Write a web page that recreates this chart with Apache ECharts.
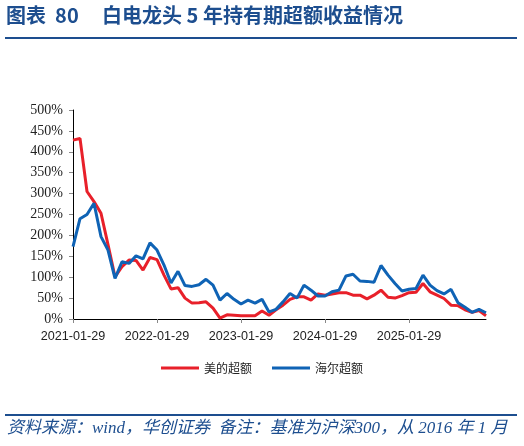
<!DOCTYPE html>
<html>
<head>
<meta charset="utf-8">
<script src="https://cdn.jsdelivr.net/npm/echarts@6/dist/echarts.min.js"></script>
<style>
  html, body { margin: 0; padding: 0; background: #fff; }
  #main { width: 524px; height: 446px; }
</style>
</head>
<body>
<div id="main"></div>
<script>
const mychart = echarts.init(document.getElementById('main'))

// monthly points, 2021-01 .. 2025-12
var years = ['2021', '2022', '2023', '2024', '2025']
var months = ['01','02','03','04','05','06','07','08','09','10','11','12']
var dates = []
years.forEach(function (y) {
    months.forEach(function (m) { dates.push(y + '-' + m + '-29') })
})

// 美的超额 (%)
var midea = [428, 432, 305, 281, 253, 178, 101, 125, 141, 140, 117, 147,
             142, 105, 72, 75, 50, 38, 39, 41, 26, 2, 10, 9,
             8, 8, 8, 19, 9, 22, 33, 47, 53, 53, 45, 60,
             57, 60, 63, 63, 57, 57, 48, 57, 69, 52, 50, 56,
             63, 64, 85, 65, 57, 49, 33, 32, 22, 16, 20, 8]

// 海尔超额 (%)
var haier = [173, 240, 250, 277, 197, 165, 97, 137, 133, 151, 144, 182,
             165, 129, 86, 114, 80, 78, 82, 95, 81, 45, 61, 47,
             36, 45, 38, 47, 17, 23, 41, 61, 50, 81, 69, 55,
             55, 65, 69, 103, 107, 91, 90, 88, 128, 105, 85, 67,
             71, 73, 105, 81, 68, 60, 71, 39, 28, 16, 23, 15]

var navy = '#1d4e8f'
var titleFont = 'bold 20px "Noto Sans CJK SC"'

mychart.setOption({
    animation: false,
    graphic: [
        { type: 'text', left: 6, top: 5, style: { text: '图表  80', font: titleFont, fill: navy } },
        { type: 'text', left: 102, top: 5, style: { text: '白电龙头 5 年持有期超额收益情况', font: titleFont, fill: navy } },
        { type: 'rect', shape: { x: 5, y: 37, width: 512, height: 2 }, style: { fill: navy } },
        { type: 'rect', shape: { x: 5, y: 414, width: 512, height: 2 }, style: { fill: navy } },
        {
            type: 'text', left: 7, top: 420,
            style: {
                text: '资料来源：wind，华创证券  备注：基准为沪深300，从 2016 年 1 月',
                font: 'italic 17px "Liberation Serif", "Noto Sans CJK SC"',
                fill: navy
            }
        }
    ],
    legend: {
        bottom: 67,
        left: 'center',
        itemWidth: 38,
        itemHeight: 3,
        itemGap: 20,
        icon: 'rect',
        data: ['美的超额', '海尔超额'],
        textStyle: { fontFamily: 'Noto Sans CJK SC', fontSize: 12, color: '#222' }
    },
    grid: { left: 73, right: 38, top: 110, bottom: 127 },
    xAxis: {
        type: 'category',
        data: dates,
        boundaryGap: false,
        axisLine: { lineStyle: { color: '#000', width: 1 } },
        axisTick: { interval: 11, length: 4, lineStyle: { color: '#888' } },
        axisLabel: {
            interval: 11,
            fontFamily: 'Liberation Sans',
            fontSize: 12.6,
            color: '#222',
            margin: 11
        }
    },
    yAxis: {
        type: 'value',
        min: 0,
        max: 500,
        interval: 50,
        splitLine: { show: false },
        axisLine: { show: true, lineStyle: { color: '#000', width: 1 } },
        axisTick: { show: true, length: 4, lineStyle: { color: '#888' } },
        axisLabel: {
            formatter: '{value}%',
            fontFamily: 'Liberation Serif',
            fontSize: 14,
            color: '#222',
            margin: 10
        }
    },
    series: [
        {
            name: '美的超额',
            type: 'line',
            data: midea,
            symbol: 'none',
            lineStyle: { color: '#e8202a', width: 3 },
            itemStyle: { color: '#e8202a' }
        },
        {
            name: '海尔超额',
            type: 'line',
            data: haier,
            symbol: 'none',
            lineStyle: { color: '#0f63b5', width: 3 },
            itemStyle: { color: '#0f63b5' }
        }
    ]
})
</script>
</body>
</html>
